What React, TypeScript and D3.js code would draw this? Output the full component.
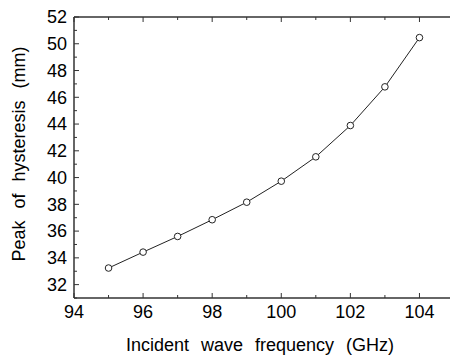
import React from "react";
import * as d3 from "d3";

// Data
const frequencies = [95, 96, 97, 98, 99, 100, 101, 102, 103, 104];
const peaks = [33.24, 34.43, 35.6, 36.85, 38.16, 39.73, 41.55, 43.89, 46.78, 50.46];
const xMajorTicks = [94, 96, 98, 100, 102, 104];
const yMajorTicks = [32, 34, 36, 38, 40, 42, 44, 46, 48, 50, 52];

const W = 450;
const H = 357;
const margin = { top: 17, right: -4, bottom: 59, left: 74 };
const font = "'Liberation Sans', Arial, sans-serif";
const axisColor = "#333";

export default function App() {
  const x = d3.scaleLinear().domain([94, 105]).range([margin.left, W - margin.right]);
  const y = d3.scaleLinear().domain([31, 52]).range([H - margin.bottom, margin.top]);

  const xMinor = d3.range(94, 106, 1);
  const yMinor = d3.range(31, 53, 1);

  const line = d3
    .line<number>()
    .x((_, i) => x(frequencies[i]))
    .y((d) => y(d));

  const x0 = x.range()[0];
  const x1 = x.range()[1];
  const y0 = y.range()[0];
  const y1 = y.range()[1];

  return (
    <svg
      width={W}
      height={H}
      style={{ position: "fixed", left: 0, top: 0, background: "#fff" }}
    >
      {/* frame */}
      <g stroke={axisColor} strokeWidth={1.5} fill="none">
        <line x1={x0} x2={x1} y1={y0} y2={y0} />
        <line x1={x0} x2={x1} y1={y1} y2={y1} />
        <line x1={x0} x2={x0} y1={y0} y2={y1} />
      </g>

      {/* ticks point inward, on bottom, top and left */}
      <g stroke={axisColor} strokeWidth={1}>
        {xMinor.map((v) => {
          const len = v % 2 === 0 ? 5 : 3;
          return (
            <g key={"xt" + v}>
              <line x1={x(v)} x2={x(v)} y1={y0} y2={y0 - len} />
              <line x1={x(v)} x2={x(v)} y1={y1} y2={y1 + len} />
            </g>
          );
        })}
        {yMinor.map((v) => {
          const len = v % 2 === 0 ? 5 : 3;
          return <line key={"yt" + v} x1={x0} x2={x0 + len} y1={y(v)} y2={y(v)} />;
        })}
      </g>

      {/* tick labels */}
      <g fontFamily={font} fontSize={18} fill="#000">
        {xMajorTicks.map((v) => (
          <text key={"xl" + v} x={x(v)} y={318} textAnchor="middle">
            {v}
          </text>
        ))}
        {yMajorTicks.map((v) => (
          <text key={"yl" + v} x={67} y={y(v)} dy="0.35em" textAnchor="end">
            {v}
          </text>
        ))}
      </g>

      {/* axis titles */}
      <text
        x={260}
        y={351}
        textAnchor="middle"
        fontFamily={font}
        fontSize={18}
        wordSpacing={7}
      >
        Incident wave frequency (GHz)
      </text>
      <text
        transform="translate(24.5,154) rotate(-90)"
        textAnchor="middle"
        fontFamily={font}
        fontSize={18}
        wordSpacing={7}
      >
        Peak of hysteresis (mm)
      </text>

      {/* series */}
      <path d={line(peaks) || ""} fill="none" stroke="#222" strokeWidth={1} />
      {peaks.map((p, i) => (
        <circle
          key={"pt" + i}
          cx={x(frequencies[i])}
          cy={y(p)}
          r={3.3}
          fill="#fff"
          stroke="#222"
          strokeWidth={1}
        />
      ))}
    </svg>
  );
}
